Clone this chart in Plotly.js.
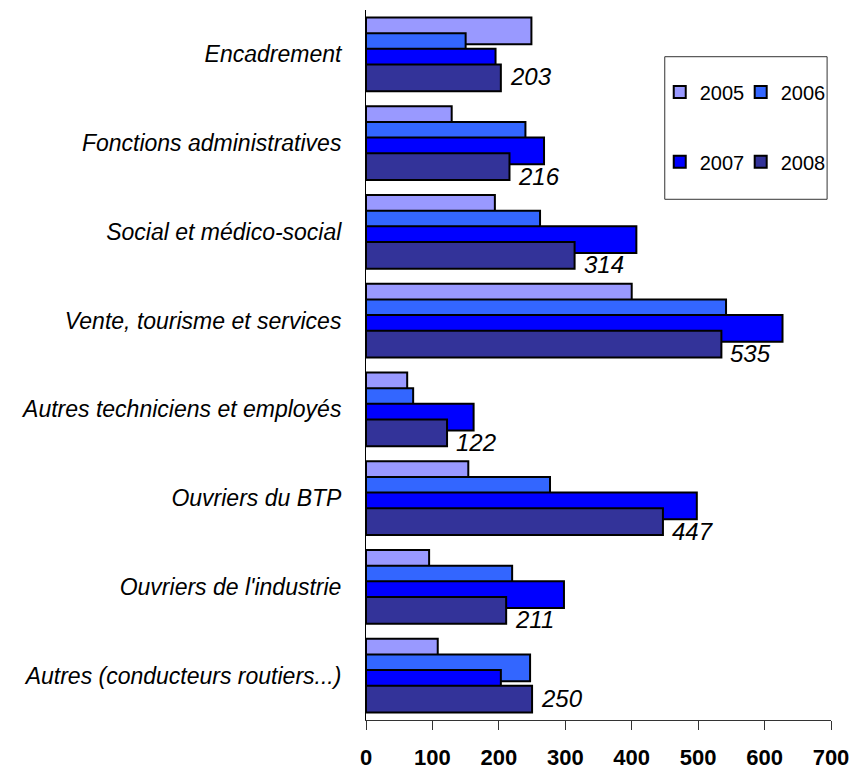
<!DOCTYPE html>
<html>
<head>
<meta charset="utf-8">
<script src="https://cdn.plot.ly/plotly-3.0.1.min.js"></script>
<style>html,body{margin:0;padding:0;background:#fff;}#chart{width:852px;height:769px;}</style>
</head>
<body>
<div id="chart"></div>
<script>
const categories = [
  "Encadrement",
  "Fonctions administratives",
  "Social et médico-social",
  "Vente, tourisme et services",
  "Autres techniciens et employés",
  "Ouvriers du BTP",
  "Ouvriers de l'industrie",
  "Autres (conducteurs routiers...)"
];
const years = ["2005", "2006", "2007", "2008"];
const v2005 = [249, 129, 194, 400, 62, 154, 95, 108];
const v2006 = [150, 240, 262, 542, 71, 277, 220, 247];
const v2007 = [195, 268, 407, 627, 162, 498, 298, 203];
const v2008 = [203, 216, 314, 535, 122, 447, 211, 250];
const xTicks = [0, 100, 200, 300, 400, 500, 600, 700];

const series = [v2005, v2006, v2007, v2008];
const colors = ["#9999FF", "#3366FF", "#0000FF", "#333399"];
const offsets = [-0.416, -0.239, -0.063, 0.114];
const legendIds = ["legend", "legend2", "legend3", "legend4"];
const legendPos = [[0.6317, 0.8845], [0.8058, 0.8845], [0.6317, 0.7863], [0.8058, 0.7863]];

const traces = series.map((vals, i) => ({
  type: "bar",
  orientation: "h",
  name: years[i],
  y: categories,
  x: vals,
  width: 0.301,
  offset: offsets[i],
  legend: legendIds[i],
  marker: { color: colors[i], line: { color: "#000000", width: 2 } },
  hoverinfo: "x+name"
}));

const annotations = categories.map((c, i) => ({
  x: v2008[i],
  y: c,
  xref: "x",
  yref: "y",
  text: String(v2008[i]),
  showarrow: false,
  xanchor: "left",
  yanchor: "middle",
  xshift: 7,
  yshift: v2007[i] > v2008[i] ? -33 : -22.6,
  font: { family: "Liberation Sans, Arial, sans-serif", size: 24, style: "italic", color: "#000000" }
}));

const layout = {
  width: 852,
  height: 769,
  margin: { l: 366, r: 21, t: 10, b: 49, pad: 0 },
  paper_bgcolor: "#ffffff",
  plot_bgcolor: "#ffffff",
  barmode: "overlay",
  showlegend: true,
  xaxis: {
    range: [0, 700],
    tickvals: xTicks,
    ticktext: xTicks.map(String),
    showgrid: false,
    zeroline: false,
    showline: true,
    linecolor: "#333333",
    linewidth: 1,
    ticks: "outside",
    ticklen: 9,
    tickwidth: 1,
    tickcolor: "#333333",
    ticklabelstandoff: 9,
    tickfont: { family: "Liberation Sans, Arial, sans-serif", size: 22, weight: "bold", color: "#000000" }
  },
  yaxis: {
    type: "category",
    categoryorder: "array",
    categoryarray: categories,
    range: [7.5, -0.5],
    showgrid: false,
    zeroline: false,
    showline: true,
    linecolor: "#000000",
    linewidth: 1,
    ticks: "",
    ticklabelstandoff: 19,
    tickfont: { family: "Liberation Sans, Arial, sans-serif", size: 23, style: "italic", color: "#000000" }
  },
  shapes: [{
    type: "rect", xref: "paper", yref: "paper",
    x0: 0.6425, x1: 0.9916, y0: 0.7334, y1: 0.9342,
    line: { color: "#333333", width: 1 },
    fillcolor: "#ffffff",
    layer: "above"
  }],
  annotations: annotations
};

legendIds.forEach((id, i) => {
  layout[id] = {
    orientation: "h",
    x: legendPos[i][0], xanchor: "left",
    y: legendPos[i][1], yanchor: "middle",
    bgcolor: "rgba(0,0,0,0)",
    borderwidth: 0,
    font: { family: "Liberation Sans, Arial, sans-serif", size: 20, color: "#000000" }
  };
});

Plotly.newPlot("chart", traces, layout, { displayModeBar: false, staticPlot: false });
</script>
</body>
</html>
